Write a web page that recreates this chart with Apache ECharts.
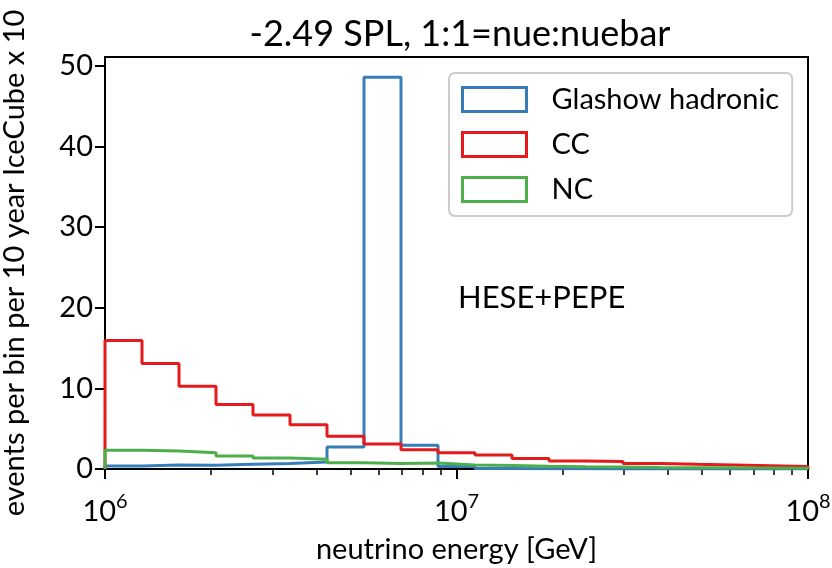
<!DOCTYPE html>
<html><head><meta charset="utf-8">
<script src="https://cdn.jsdelivr.net/npm/echarts@6/dist/echarts.min.js"></script>
<style>html,body{margin:0;padding:0;background:#fff}#c{width:832px;height:568px}</style>
</head><body><div id="c"></div>
<script>
// 19 log-spaced bins from 1e6 to 1e8 GeV (20 edges)
const binEdges = [1.0e6, 1.27427e6, 1.62378e6, 2.06914e6, 2.63665e6, 3.35982e6, 4.28133e6,
  5.45559e6, 6.95193e6, 8.85867e6, 1.12884e7, 1.43845e7, 1.83298e7, 2.33572e7, 2.97635e7,
  3.79269e7, 4.83293e7, 6.15848e7, 7.84760e7, 1.0e8];
const glashow = [0.37, 0.5, 0.48, 0.58, 0.67, 0.87, 2.73, 48.6, 2.94, 0.3, 0.05, 0.03, 0.02, 0.01, 0, 0, 0, 0, 0];
const cc = [15.95, 13.07, 10.26, 7.99, 6.7, 5.5, 4.06, 3.1, 2.4, 2.0, 1.74, 1.29, 0.98, 0.93, 0.67, 0.58, 0.5, 0.4, 0.3];
const nc = [2.32, 2.23, 2.03, 1.61, 1.36, 1.2, 0.79, 0.67, 0.74, 0.5, 0.42, 0.33, 0.28, 0.24, 0.2, 0.17, 0.14, 0.12, 0.1];
const seriesNames = ['Glashow hadronic', 'CC', 'NC'];
const colors = ['#377eb8', '#e41a1c', '#4daf4a'];
const yTicks = [0, 10, 20, 30, 40, 50];
const xMajor = [1e6, 1e7, 1e8];
const xMinor = [2e6, 3e6, 4e6, 5e6, 6e6, 7e6, 8e6, 9e6, 2e7, 3e7, 4e7, 5e7, 6e7, 7e7, 8e7, 9e7];
const FONT = 'Lato';

function stepData(vals) {
  const d = [[binEdges[0], 0]];
  for (let i = 0; i < vals.length; i++) d.push([binEdges[i], vals[i]]);
  d.push([binEdges[binEdges.length - 1], vals[vals.length - 1]]);
  d.push([binEdges[binEdges.length - 1], 0]);
  return d;
}

const chart = echarts.init(document.getElementById('c'));
const allVals = [glashow, cc, nc];
chart.setOption({
  animation: false,
  backgroundColor: '#fff',
  textStyle: {fontFamily: FONT},
  title: {
    text: '-2.49 SPL, 1:1=nue:nuebar', left: 455, top: 11, textAlign: 'center',
    textStyle: {fontFamily: FONT, fontSize: 36, fontWeight: 'normal', color: '#000'}
  },
  grid: {left: 105, right: 24, top: 57, bottom: 99, containLabel: false, outerBoundsMode: 'none',
         show: true, borderColor: '#000', borderWidth: 2, backgroundColor: 'transparent'},
  xAxis: [{
    type: 'log', logBase: 10, min: 1e6, max: 1e8, position: 'bottom',
    name: 'neutrino energy [GeV]', nameLocation: 'middle', nameGap: 66,
    nameTextStyle: {fontFamily: FONT, fontSize: 29, color: '#000'},
    axisLine: {lineStyle: {color: '#000', width: 2}},
    axisTick: {show: true, length: 10, lineStyle: {color: '#000', width: 2}, customValues: xMajor},
    axisLabel: {
      customValues: xMajor, margin: 23, color: '#000',
      formatter: v => '{b|10}{s|' + Math.round(Math.log10(v)) + '}',
      rich: {b: {fontFamily: FONT, fontSize: 29, color: '#000', verticalAlign: 'bottom'},
             s: {fontFamily: FONT, fontSize: 20, color: '#000', verticalAlign: 'bottom', padding: [0, 0, 14, 0]}}
    },
    splitLine: {show: false}, minorTick: {show: false}
  }, {
    type: 'log', logBase: 10, min: 1e6, max: 1e8, position: 'bottom',
    axisLine: {show: false},
    axisTick: {show: true, length: 6, lineStyle: {color: '#000', width: 1.5}, customValues: xMinor},
    axisLabel: {show: false}, splitLine: {show: false}
  }],
  yAxis: {
    type: 'value', min: 0, max: 51.1,
    name: 'events per bin per 10 year IceCube x 10', nameLocation: 'middle', nameGap: 76, nameRotate: 90,
    nameTextStyle: {fontFamily: FONT, fontSize: 29, color: '#000'},
    axisLine: {show: true, lineStyle: {color: '#000', width: 2}},
    axisTick: {show: true, length: 10, lineStyle: {color: '#000', width: 2}, customValues: yTicks},
    axisLabel: {customValues: yTicks, fontFamily: FONT, fontSize: 29, color: '#000', margin: 12},
    splitLine: {show: false}
  },
  legend: {
    orient: 'vertical', left: 449, top: 73,
    padding: [12, 13, 12, 12], itemGap: 16, itemWidth: 64, itemHeight: 24,
    backgroundColor: '#fff', borderColor: '#cccccc', borderWidth: 2, borderRadius: 6,
    textStyle: {fontFamily: FONT, fontSize: 29, lineHeight: 28, color: '#000', padding: [0, 0, 0, 20]},
    data: seriesNames.map((n, i) => ({
      name: n, icon: 'rect',
      itemStyle: {color: '#fff', borderColor: colors[i], borderWidth: 3}
    }))
  },
  graphic: [{
    type: 'text', left: 458, top: 282,
    style: {text: 'HESE+PEPE', fontFamily: FONT, fontSize: 31, fill: '#000'}
  }],
  series: seriesNames.map((n, i) => ({
    name: n, type: 'line', step: 'end', xAxisIndex: 0,
    data: stepData(allVals[i]), showSymbol: false, symbol: 'none',
    lineStyle: {color: colors[i], width: 3}, itemStyle: {color: colors[i]},
    z: 2 + i
  }))
});
</script>
</body></html>
